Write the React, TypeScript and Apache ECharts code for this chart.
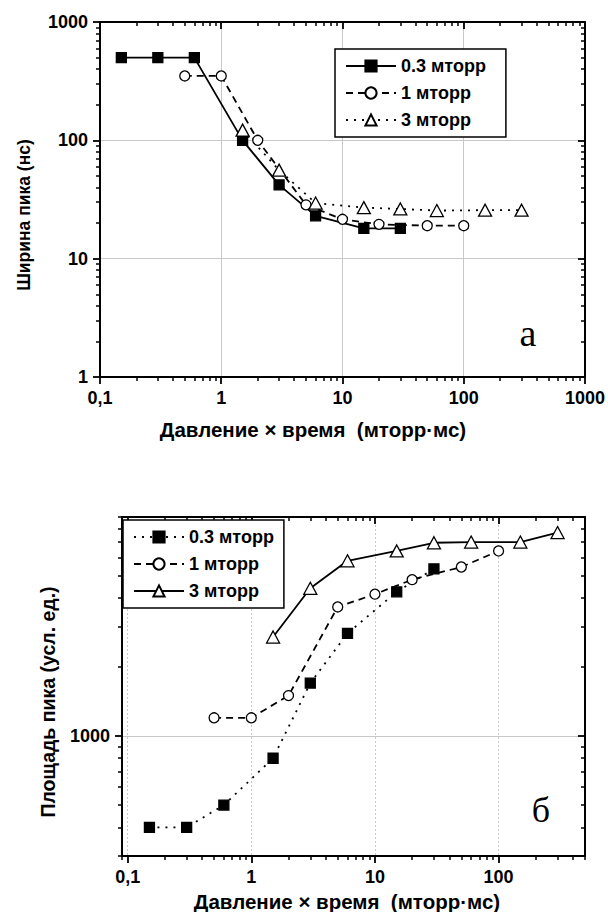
import React, { useEffect, useRef } from "react";
import * as echarts from "echarts";

// ---- Data: panel (а) peak width, ns ----
const topX_03 = [0.15, 0.3, 0.6, 1.5, 3, 6, 15, 30];
const topY_03 = [500, 500, 500, 100, 42, 23, 18, 18];
const topX_1 = [0.5, 1, 2, 5, 10, 20, 50, 100];
const topY_1 = [350, 350, 100, 28.5, 21.5, 19.5, 19, 19];
const topX_3 = [1.5, 3, 6, 15, 30, 60, 150, 300];
const topY_3 = [122, 56, 29.5, 27, 26.3, 25.5, 25.7, 25.7];

// ---- Data: panel (б) peak area, arb. units ----
const botX_03 = [0.15, 0.3, 0.6, 1.5, 3, 6, 15, 30];
const botY_03 = [400, 400, 500, 800, 1700, 2800, 4250, 5350];
const botX_1 = [0.5, 1, 2, 5, 10, 20, 50, 100];
const botY_1 = [1200, 1200, 1500, 3650, 4150, 4800, 5450, 6400];
const botX_3 = [1.5, 3, 6, 15, 30, 60, 150, 300];
const botY_3 = [2700, 4400, 5800, 6400, 6950, 7000, 7000, 7700];

const seriesNames = ["0.3 мторр", "1 мторр", "3 мторр"];

// ---- Tick labels / ticks ----
const topXMajor = [0.1, 1, 10, 100, 1000];
const topYMajor = [1, 10, 100, 1000];
const botXMajor = [0.1, 1, 10, 100];
const botYMajor = [1000];
const minorMult = [2, 3, 4, 5, 6, 7, 8, 9];

const xTitle = "Давление × время  (мторр·мс)";
const topYTitle = "Ширина пика (нс)";
const botYTitle = "Площадь пика (усл. ед.)";

const FONT = "'Liberation Sans', Arial, Helvetica, sans-serif";

function minorTicks(min: number, max: number): number[] {
  const out: number[] = [];
  for (let d = 0.01; d <= 100000; d *= 10) {
    for (const m of minorMult) {
      const v = +(m * d).toPrecision(6);
      if (v >= min * 0.999 && v <= max * 1.001) out.push(v);
    }
  }
  return out;
}

const fmt = (v: number) => String(v).replace(".", ",");

const MAJ = { length: 7, lineStyle: { color: "#000", width: 1.8 } };
const MIN = { length: 4, lineStyle: { color: "#000", width: 1.5 } };

function makeX(gridIndex: number, min: number, max: number, majors: number[], gridDashed: boolean) {
  const minors = minorTicks(min, max);
  const base = { type: "log", logBase: 10, gridIndex, min, max };
  return [
    {
      ...base,
      position: "bottom",
      axisLine: { show: true, onZero: false, lineStyle: { color: "#000", width: 2 } },
      axisTick: { show: true, inside: false, customValues: majors, ...MAJ },
      axisLabel: { show: true, customValues: majors, formatter: fmt, color: "#000", fontWeight: "bold", fontSize: 18, fontFamily: FONT, margin: 12 },
      splitLine: { show: true, lineStyle: { color: "#c8c8c8", width: 1, type: gridDashed ? [2, 2] : "solid" } },
      minorTick: { show: false },
    },
    {
      ...base,
      position: "bottom",
      axisLine: { show: false },
      axisTick: { show: true, inside: false, customValues: minors, ...MIN },
      axisLabel: { show: false },
      splitLine: { show: false },
    },
    {
      ...base,
      position: "top",
      axisLine: { show: true, onZero: false, lineStyle: { color: "#000", width: 2 } },
      axisTick: { show: true, inside: true, customValues: majors, ...MAJ },
      axisLabel: { show: false },
      splitLine: { show: false },
    },
    {
      ...base,
      position: "top",
      axisLine: { show: false },
      axisTick: { show: true, inside: true, customValues: minors, ...MIN },
      axisLabel: { show: false },
      splitLine: { show: false },
    },
  ];
}

function makeY(gridIndex: number, min: number, max: number, majors: number[]) {
  const minors = minorTicks(min, max);
  const base = { type: "log", logBase: 10, gridIndex, min, max };
  return [
    {
      ...base,
      position: "left",
      axisLine: { show: true, onZero: false, lineStyle: { color: "#000", width: 2 } },
      axisTick: { show: true, inside: false, customValues: majors, ...MAJ },
      axisLabel: { show: true, customValues: majors, formatter: fmt, color: "#000", fontWeight: "bold", fontSize: 18, fontFamily: FONT, margin: 12 },
      splitLine: { show: true, lineStyle: { color: "#c8c8c8", width: 1 } },
      minorTick: { show: false },
    },
    {
      ...base,
      position: "left",
      axisLine: { show: false },
      axisTick: { show: true, inside: false, customValues: minors, ...MIN },
      axisLabel: { show: false },
      splitLine: { show: false },
    },
    {
      ...base,
      position: "right",
      axisLine: { show: true, onZero: false, lineStyle: { color: "#000", width: 2 } },
      axisTick: { show: true, inside: true, customValues: majors, ...MAJ },
      axisLabel: { show: false },
      splitLine: { show: false },
    },
    {
      ...base,
      position: "right",
      axisLine: { show: false },
      axisTick: { show: true, inside: true, customValues: minors, ...MIN },
      axisLabel: { show: false },
      splitLine: { show: false },
    },
  ];
}

type Style = "solid" | "dashed" | "dotted";
const dash = (s: Style): any => (s === "solid" ? "solid" : s === "dashed" ? [7, 5] : [2, 6]);

function makeSeries(name: string, axisIdx: number, xs: number[], ys: number[], symbol: string, filled: boolean, line: Style, size: number | number[]) {
  return {
    type: "line",
    name,
    xAxisIndex: axisIdx,
    yAxisIndex: axisIdx,
    data: xs.map((x, i) => [x, ys[i]]),
    symbol,
    symbolSize: size,
    showSymbol: true,
    showAllSymbol: true,
    lineStyle: { color: "#000", width: 1.8, type: dash(line) },
    itemStyle: { color: filled ? "#000" : "#fff", borderColor: "#000", borderWidth: 1.3 },
    z: 3,
  };
}

function legendCfg(left: number, top: number, names: string[], padRight: number) {
  return {
    orient: "vertical",
    left,
    top,
    data: names,
    formatter: (n: string) => n.trim(),
    itemWidth: 50,
    itemHeight: 14,
    itemGap: 9,
    padding: [8, padRight, 8, 10],
    borderColor: "#000",
    borderWidth: 1.5,
    backgroundColor: "#fff",
    selectedMode: false,
    textStyle: { color: "#000", fontSize: 18, fontWeight: "bold", fontFamily: FONT },
  };
}

function title(text: string, x: number, y: number, size: number, rotated: boolean) {
  return {
    type: "text",
    x,
    y,
    rotation: rotated ? Math.PI / 2 : 0,
    style: { text, font: `bold ${size}px ${FONT}`, fill: "#000", textAlign: "center", textVerticalAlign: "middle" },
  };
}

export default function App() {
  const ref = useRef<HTMLDivElement>(null);
  useEffect(() => {
    document.body.style.margin = "0";
    if (!ref.current) return;
    const chart = echarts.init(ref.current, undefined, { renderer: "svg" });
    const botNames = seriesNames.map((n) => n + " ");
    chart.setOption({
      animation: false,
      backgroundColor: "#fff",
      grid: [
        { left: 100, top: 22, width: 485, height: 355, containLabel: false },
        { left: 122, top: 517, width: 463, height: 339, containLabel: false },
      ],
      xAxis: [...makeX(0, 0.1, 1000, topXMajor, false), ...makeX(1, 0.09, 500, botXMajor, true)],
      yAxis: [...makeY(0, 1, 1000, topYMajor), ...makeY(1, 300, 9000, botYMajor)],
      legend: [legendCfg(335, 49, seriesNames, 20), legendCfg(123, 520, botNames, 10)],
      series: [
        makeSeries(seriesNames[0], 0, topX_03, topY_03, "rect", true, "solid", 10),
        makeSeries(seriesNames[1], 0, topX_1, topY_1, "circle", false, "dashed", 10),
        makeSeries(seriesNames[2], 0, topX_3, topY_3, "triangle", false, "dotted", [13, 12]),
        makeSeries(botNames[0], 4, botX_03, botY_03, "rect", true, "dotted", 10),
        makeSeries(botNames[1], 4, botX_1, botY_1, "circle", false, "dashed", 10),
        makeSeries(botNames[2], 4, botX_3, botY_3, "triangle", false, "solid", [13, 12]),
      ],
      graphic: [
        title(xTitle, 313, 429, 20.5, false),
        title(xTitle, 347, 901, 20.5, false),
        title(topYTitle, 24, 215, 17.5, true),
        title(botYTitle, 48, 702, 19.5, true),
        { type: "text", x: 528, y: 333, style: { text: "а", font: "38px 'Liberation Serif', 'Times New Roman', serif", fill: "#000", textAlign: "center", textVerticalAlign: "middle" } },
        { type: "text", x: 541, y: 810, style: { text: "б", font: "36px 'Liberation Serif', 'Times New Roman', serif", fill: "#000", textAlign: "center", textVerticalAlign: "middle" } },
      ],
    });
    return () => chart.dispose();
  }, []);
  return <div ref={ref} style={{ width: 608, height: 912 }} />;
}
